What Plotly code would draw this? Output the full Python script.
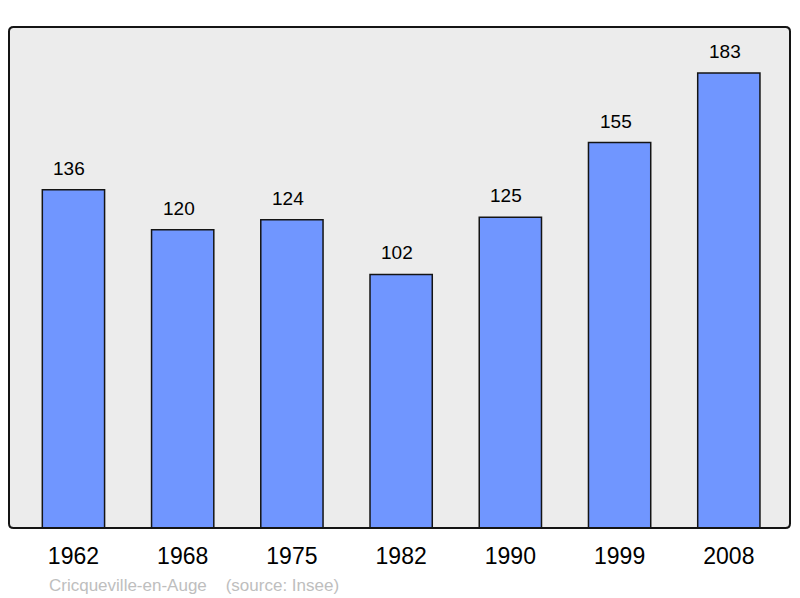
import plotly.graph_objects as go

years = ["1962", "1968", "1975", "1982", "1990", "1999", "2008"]
population = [136, 120, 124, 102, 125, 155, 183]
caption = "Cricqueville-en-Auge&nbsp;&nbsp;&nbsp;&nbsp;(source: Insee)"

positions = list(range(len(years)))

bars = go.Bar(
    x=positions,
    y=population,
    width=0.57,
    marker=dict(color="rgb(112,150,255)", line=dict(color="rgb(20,20,20)", width=1.5)),
    hoverinfo="x+y",
    showlegend=False,
)

fig = go.Figure(data=[bars])

# value labels above each bar
for pos, val in zip(positions, population):
    fig.add_annotation(
        x=pos, y=val, text=str(val), showarrow=False,
        yanchor="bottom", yshift=9, xshift=-4,
        font=dict(size=19, color="black"),
    )

fig.add_annotation(
    xref="paper", yref="paper", x=0.049, y=-0.092,
    xanchor="left", yanchor="top", showarrow=False,
    text=caption, font=dict(size=17, color="rgb(190,190,190)"),
)

# frame with slightly rounded corners
rx, ry = 0.006, 0.009
frame = (f"M {rx},0 L {1-rx},0 Q 1,0 1,{ry} L 1,{1-ry} Q 1,1 {1-rx},1 "
         f"L {rx},1 Q 0,1 0,{1-ry} L 0,{ry} Q 0,0 {rx},0 Z")
fig.add_shape(type="path", xref="x domain", yref="y domain", path=frame,
              line=dict(color="rgb(20,20,20)", width=2), layer="above")

fig.update_layout(
    width=800,
    height=598,
    margin=dict(l=9, r=10, t=27, b=70),
    paper_bgcolor="white",
    plot_bgcolor="rgb(236,236,236)",
    font=dict(family="Liberation Sans, Arial, sans-serif", color="black"),
)
fig.update_xaxes(
    tickmode="array", tickvals=positions, ticktext=years,
    range=[-0.59, 6.56], showgrid=False, zeroline=False,
    ticks="", tickfont=dict(size=23), showline=False,
    ticklabelstandoff=12,
)
fig.update_yaxes(
    range=[0, 201.5], showgrid=False, zeroline=False,
    showticklabels=False, showline=False,
)

fig.write_html("out.html", config={"displayModeBar": False},
               post_script="document.body.style.margin='0';")
